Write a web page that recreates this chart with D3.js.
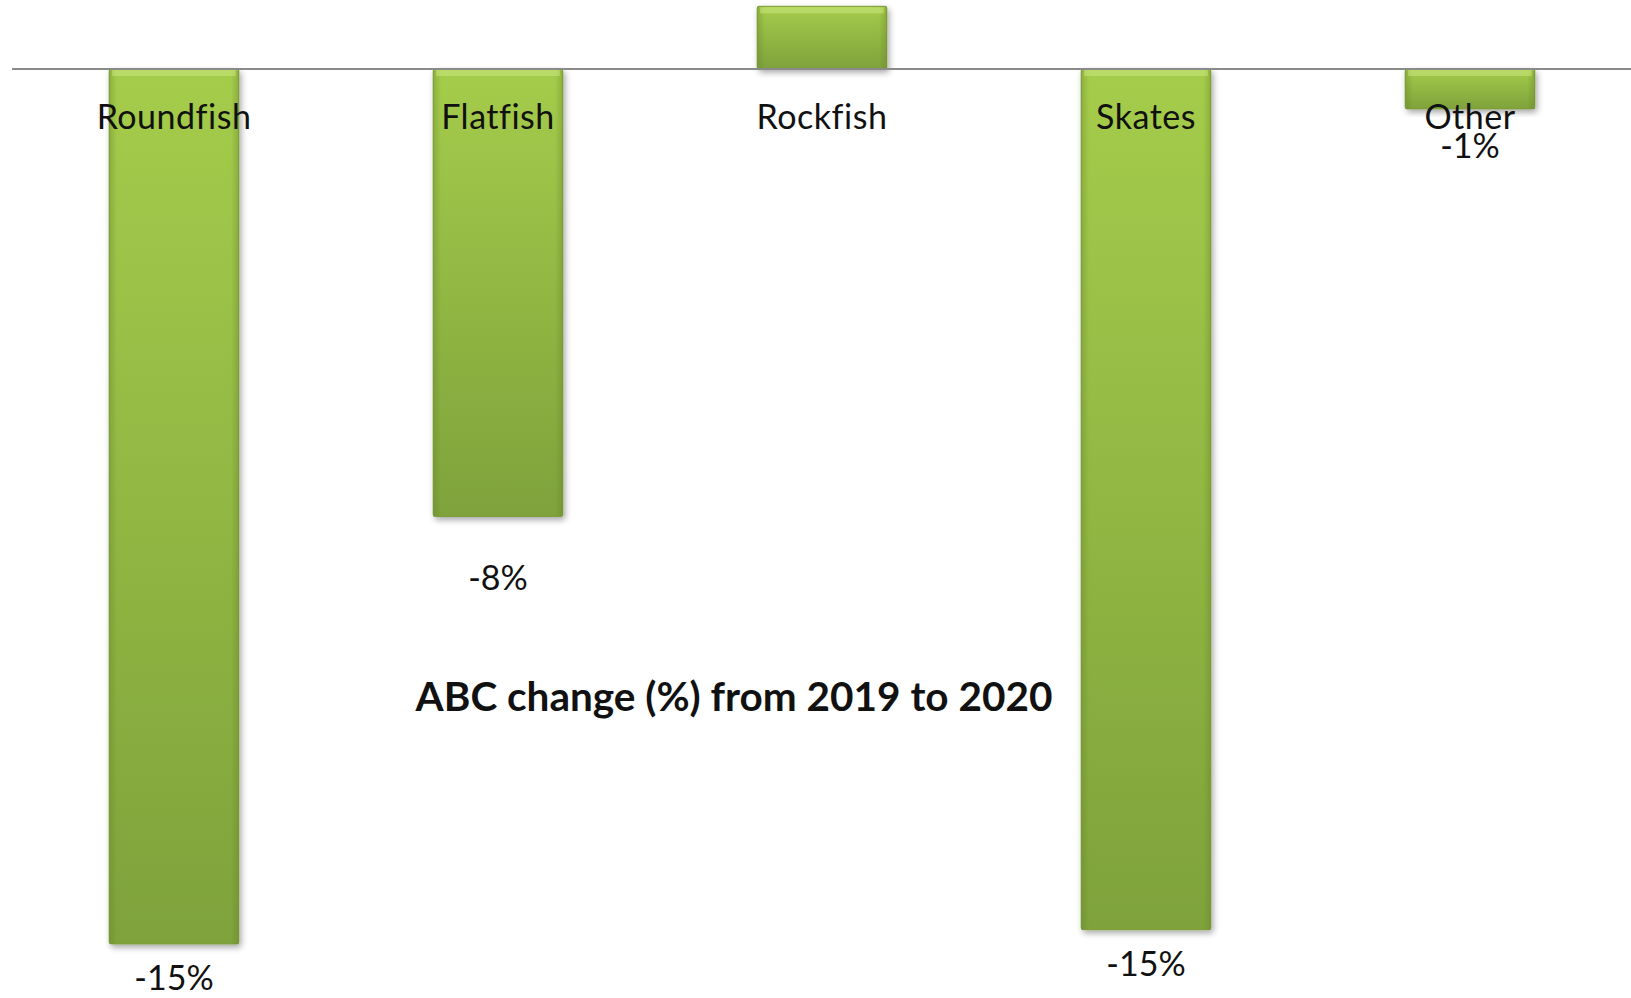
<!DOCTYPE html>
<html>
<head>
<meta charset="utf-8">
<script src="https://cdn.jsdelivr.net/npm/d3@7"></script>
<style>
  body { margin: 0; background: #fff; }
  svg { display: block; }
  text { font-family: Lato, "Open Sans", sans-serif; fill: #111; }
</style>
</head>
<body>
<div id="container"></div>
<script>
// categories and ABC change (%) 2019 -> 2020
var categories = ["Roundfish", "Flatfish", "Rockfish", "Skates", "Other"];
var changes = [-15.35, -7.85, 1.1, -15.1, -0.7];
var valueLabels = ["-15%", "-8%", "", "-15%", "-1%"];
var title = "ABC change (%) from 2019 to 2020";

const width = 1631;
const height = 998;
const zeroY = 69;
const pxPerPct = 57;
const labelGap = 35;
// the -8% label sits further down in the original
const labelNudge = { "Flatfish": 28, "Other": 3 };

const svg = d3.select("div#container").append("svg")
    .attr("width", width)
    .attr("height", height);

var defs = svg.append("defs");

var grad = defs.append("linearGradient")
    .attr("id", "barFill")
    .attr("x1", 0).attr("y1", 0).attr("x2", 0).attr("y2", 1);
grad.append("stop").attr("offset", "0%").attr("stop-color", "#a5cc4b");
grad.append("stop").attr("offset", "100%").attr("stop-color", "#7fa23b");

var edge = defs.append("linearGradient")
    .attr("id", "sideShade")
    .attr("x1", 0).attr("y1", 0).attr("x2", 1).attr("y2", 0);
edge.append("stop").attr("offset", "0%").attr("stop-color", "#5f7d26").attr("stop-opacity", 0.35);
edge.append("stop").attr("offset", "6%").attr("stop-color", "#5f7d26").attr("stop-opacity", 0);
edge.append("stop").attr("offset", "94%").attr("stop-color", "#5f7d26").attr("stop-opacity", 0);
edge.append("stop").attr("offset", "100%").attr("stop-color", "#5f7d26").attr("stop-opacity", 0.35);

var shadow = defs.append("filter")
    .attr("id", "shadow")
    .attr("x", "-20%").attr("y", "-20%").attr("width", "140%").attr("height", "140%");
shadow.append("feDropShadow")
    .attr("dx", 2).attr("dy", 3)
    .attr("stdDeviation", 3)
    .attr("flood-color", "#000")
    .attr("flood-opacity", 0.35);

//----------------------------SCALES----------------------------//
var xScale = d3.scaleBand()
    .domain(categories)
    .range([12, 1632])
    .paddingInner(0.6)
    .paddingOuter(0.3);

var yScale = d3.scaleLinear()
    .domain([0, -16])
    .range([zeroY, zeroY + 16 * pxPerPct]);

var data = categories.map(function(c, i) {
  return { cat: c, value: changes[i], label: valueLabels[i] };
});

//-----------------------------BARS-----------------------------//
var bars = svg.append("g").selectAll("g")
    .data(data)
    .enter()
    .append("g");

bars.append("rect")
    .attr("x", function(d) { return xScale(d.cat); })
    .attr("y", function(d) { return Math.min(yScale(d.value), yScale(0)); })
    .attr("width", xScale.bandwidth())
    .attr("height", function(d) { return Math.abs(yScale(d.value) - yScale(0)); })
    .attr("fill", "url(#barFill)")
    .attr("stroke", "#7d9d3a")
    .attr("stroke-width", 1)
    .attr("rx", 2)
    .attr("filter", "url(#shadow)");

bars.append("rect")
    .attr("x", function(d) { return xScale(d.cat); })
    .attr("y", function(d) { return Math.min(yScale(d.value), yScale(0)); })
    .attr("width", xScale.bandwidth())
    .attr("height", function(d) { return Math.abs(yScale(d.value) - yScale(0)); })
    .attr("fill", "url(#sideShade)");

// top bevel highlight
bars.append("rect")
    .attr("x", function(d) { return xScale(d.cat) + 3; })
    .attr("y", function(d) { return Math.min(yScale(d.value), yScale(0)) + 1; })
    .attr("width", xScale.bandwidth() - 6)
    .attr("height", 6)
    .attr("fill", "#c6e57a")
    .attr("opacity", 0.6);

//-----------------------------AXIS-----------------------------//
svg.append("line")
    .attr("x1", 12).attr("x2", width)
    .attr("y1", yScale(0)).attr("y2", yScale(0))
    .attr("stroke", "#8a8a8a")
    .attr("stroke-width", 2);

//----------------------------LABELS----------------------------//
svg.append("g").selectAll("text")
    .data(categories)
    .enter()
    .append("text")
    .attr("x", function(d) { return xScale(d) + xScale.bandwidth() / 2; })
    .attr("y", 129)
    .attr("text-anchor", "middle")
    .style("font-size", "34px")
    .style("letter-spacing", "0.5px")
    .text(function(d) { return d; });

svg.append("g").selectAll("text")
    .data(data.filter(function(d) { return d.label; }))
    .enter()
    .append("text")
    .attr("x", function(d) { return xScale(d.cat) + xScale.bandwidth() / 2; })
    .attr("y", function(d) {
      return yScale(d.value) + labelGap + 11 + (labelNudge[d.cat] || 0);
    })
    .attr("text-anchor", "middle")
    .style("font-size", "34px")
    .text(function(d) { return d.label; });

svg.append("text")
    .attr("x", 734)
    .attr("y", 711)
    .attr("text-anchor", "middle")
    .style("font-size", "40.5px")
    .style("font-weight", "bold")
    .text(title);
</script>
</body>
</html>
